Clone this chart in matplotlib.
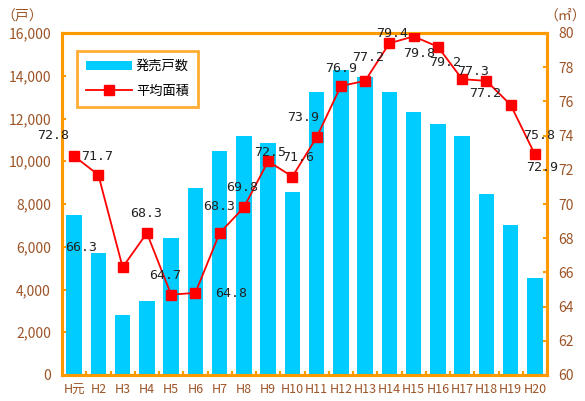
import matplotlib
matplotlib.use("Agg")
import matplotlib.pyplot as plt
import numpy as np
from matplotlib.lines import Line2D
from matplotlib.patches import Patch

plt.rcParams['font.family'] = ['Noto Sans CJK JP', 'DejaVu Sans']

categories = ["H元", "H2", "H3", "H4", "H5", "H6", "H7", "H8", "H9", "H10",
              "H11", "H12", "H13", "H14", "H15", "H16", "H17", "H18", "H19", "H20"]
units_sold = [7480, 5700, 2830, 3470, 6400, 8730, 10480, 11180, 10870, 8560,
              13240, 14270, 13940, 13240, 12290, 11740, 11180, 8480, 7020, 4540]
avg_area = [72.8, 71.7, 66.3, 68.3, 64.7, 64.8, 68.3, 69.8, 72.5, 71.6,
            73.9, 76.9, 77.2, 79.4, 79.8, 79.2, 77.3, 77.2, 75.8, 72.9]
label_text = ["72.8", "71.7", "66.3", "68.3", "64.7", "64.8", "68.3", "69.8", "72.5", "71.6",
              "73.9", "76.9", "77.2", "79.4", "79.8", "79.2", "77.3", "77.2", "75.8", "72.9"]
# label offsets in pixels (dx, dy) relative to the point
label_offsets = [(-21, 21), (-1, 18), (-42, 20), (-1, 20), (-6, 19), (36, -1), (0, 27), (-2, 20),
                 (2, 9), (6, 19), (-13, 20), (0, 18), (3, 23), (3, 10), (5, -17), (7, -16),
                 (11, 8), (-1, -13), (28, -31), (7, -13)]
left_ticks = [0, 2000, 4000, 6000, 8000, 10000, 12000, 14000, 16000]
right_ticks = [60, 62, 64, 66, 68, 70, 72, 74, 76, 78, 80]

orange = '#FF9900'
brown = '#9C5427'
bar_color = '#00CCFF'

fig = plt.figure(figsize=(5.85, 4.01), dpi=100)
ax = fig.add_axes([62/585, 1-375/401, (547-62)/585, (375-33)/401])
ax2 = ax.twinx()

x = np.arange(len(categories))
ax.bar(x, units_sold, width=0.63, color=bar_color, zorder=2)
ax.set_xlim(-0.5, len(categories) - 0.5)
ax.set_ylim(0, 16000)
ax.set_yticks(left_ticks)
ax.set_yticklabels([f"{v:,}" for v in left_ticks], color=brown, fontsize=10)
ax.set_xticks(x)
ax.set_xticklabels(categories, color=brown, fontsize=9)
ax.tick_params(axis='x', length=0, pad=6)
ax.set_xticks(np.arange(-0.5, len(categories), 1.0), minor=True)
ax.tick_params(axis='x', which='minor', direction='in', length=3, color=orange, width=1.5)
ax.tick_params(axis='y', direction='in', length=3, color=orange, width=1.5, pad=8)

ax2.plot(x, avg_area, color='red', lw=1.3, marker='s', markersize=7, zorder=3)
ax2.set_ylim(60, 80)
ax2.set_yticks(right_ticks)
ax2.set_yticklabels([str(v) for v in right_ticks], color=brown, fontsize=10)
ax2.tick_params(axis='y', direction='in', length=3, color=orange, width=1.5, pad=8)

for xi, yi, t, (dx, dy) in zip(x, avg_area, label_text, label_offsets):
    ax2.annotate(t, (xi, yi), xytext=(dx, dy), textcoords='offset pixels',
                 ha='center', va='center', fontsize=9.5, color='#222222',
                 family=['DejaVu Sans Mono'], zorder=4)

for a in (ax, ax2):
    for s in a.spines.values():
        s.set_color(orange)
        s.set_linewidth(2.2)

fig.text(22/585, 1-16/401, "（戸）", color=brown, fontsize=10, ha='center', va='center')
fig.text(565/585, 1-16/401, "（㎡）", color=brown, fontsize=10, ha='center', va='center')

handles = [Patch(facecolor=bar_color, edgecolor='none'),
           Line2D([0], [0], color='red', lw=1.3, marker='s', markersize=7)]
leg = ax.legend(handles, ["発売戸数", "平均面積"], loc='upper left',
                bbox_to_anchor=(8/485, 1-11/342), fontsize=9.5, frameon=True,
                fancybox=False, borderpad=0.7, labelspacing=0.9, handlelength=3.5,
                handletextpad=0.3)
leg.get_frame().set_edgecolor(orange)
leg.get_frame().set_linewidth(2)
leg.set_zorder(5)

fig.savefig("out.png", dpi=100)
